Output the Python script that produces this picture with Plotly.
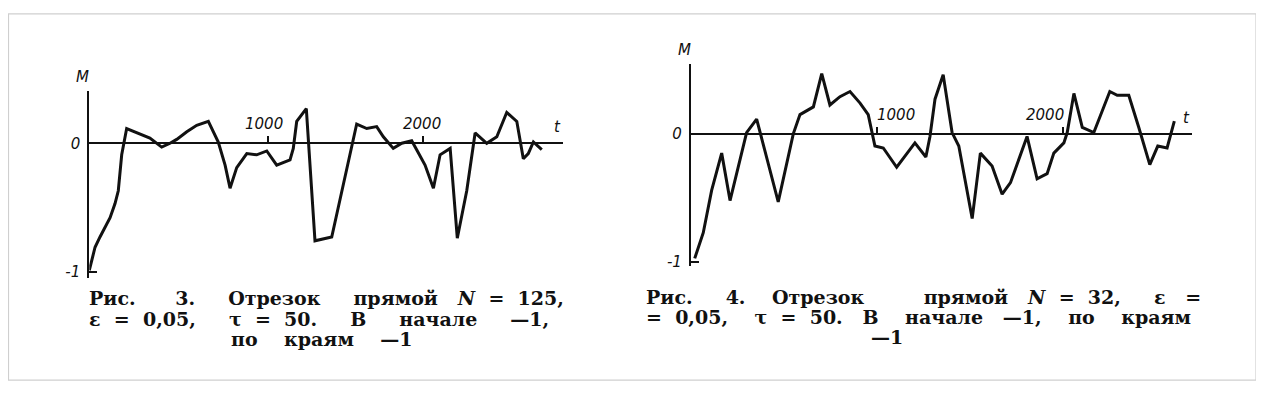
import plotly.graph_objects as go

# ---------------- data ----------------
# Fig. 3 (left): N = 125
t_left = [-155, -118, -86, -21, 11, 32, 54, 86, 236, 280, 312, 366, 409, 474, 538,
          613, 677, 721, 753, 796, 861, 925, 990, 1054, 1140, 1161, 1183, 1245, 1301,
          1409, 1570, 1635, 1699, 1742, 1806, 1861, 1925, 1957, 2011, 2065, 2108,
          2173, 2219, 2280, 2334, 2409, 2474, 2538, 2603, 2645, 2677, 2710, 2764]
m_left = [-0.99, -0.81, -0.73, -0.58, -0.47, -0.37, -0.09, 0.115, 0.04, 0.0, -0.03,
          0.0, 0.03, 0.09, 0.14, 0.17, 0.01, -0.17, -0.35, -0.19, -0.08, -0.09, -0.06,
          -0.17, -0.13, -0.04, 0.17, 0.27, -0.76, -0.73, 0.15, 0.115, 0.13, 0.05, -0.04,
          0.0, 0.02, -0.05, -0.17, -0.35, -0.09, -0.04, -0.74, -0.37, 0.08, 0.0, 0.05,
          0.24, 0.17, -0.12, -0.08, 0.01, -0.05]

# Fig. 4 (right): N = 32
t_right = [20, 66, 111, 165, 210, 299, 353, 469, 550, 586, 658, 703, 747, 801, 855,
           909, 953, 989, 1034, 1106, 1204, 1263, 1285, 1312, 1356, 1404, 1440, 1512,
           1556, 1619, 1673, 1718, 1807, 1861, 1915, 1951, 2005, 2023, 2059, 2104,
           2166, 2252, 2292, 2354, 2408, 2467, 2510, 2560, 2599]
m_right = [-0.97, -0.77, -0.44, -0.15, -0.52, 0.01, 0.115, -0.53, 0.0, 0.15, 0.21,
           0.47, 0.225, 0.29, 0.33, 0.24, 0.15, -0.095, -0.11, -0.26, -0.07, -0.18,
           -0.02, 0.27, 0.46, 0.01, -0.095, -0.66, -0.15, -0.25, -0.47, -0.38, -0.02,
           -0.35, -0.31, -0.15, -0.07, 0.01, 0.315, 0.05, 0.01, 0.33, 0.30, 0.30, 0.05,
           -0.24, -0.095, -0.11, 0.10]

x_ticks = [1000, 2000]
x_tick_labels = ["1000", "2000"]
y_ticks = [0, -1]
y_tick_labels = ["0", "-1"]

S = "\u00a0"


def sp(*parts):
    """join words with given numbers of non-breaking spaces: w, n, w, n, w ..."""
    out = ""
    for k, part in enumerate(parts):
        out += (S * part) if k % 2 else part
    return out


caption_left = [
    sp("Рис.", 6, "3.", 5, "Отрезок", 5, "прямой", 3, "<i>N</i>", 2, "=", 2, "125,"),
    sp("ε", 2, "=", 2, "0,05,", 5, "τ", 2, "=", 2, "50.", 5, "В", 5, "начале", 5, "—1,"),
    sp("по", 4, "краям", 4, "—1"),
]
caption_right = [
    sp("Рис.", 5, "4.", 4, "Отрезок", 9, "прямой", 3, "<i>N</i>", 2, "=", 2, "32,", 5, "ε", 3, "="),
    sp("=", 2, "0,05,", 4, "τ", 2, "=", 2, "50.", 3, "В", 4, "начале", 3, "—1,", 4, "по", 4, "краям"),
    "—1",
]

# ---------------- geometry (page has an 8 px body margin) ----------------
OFF = 8
W, H = 1264 - OFF, 402 - OFF


def fx(px):
    return (px - OFF) / W


def fy(py):
    return 1 - (py - OFF) / H


panels = [
    dict(t=t_left, m=m_left, xr=[-155, 2901], yr=[-1.05, 0.41],
         xd=[fx(89.3), fx(563)], yd=[fy(281.5), fy(91.7)],
         tick_shift=[-4, -1], cap=caption_left, cap_x=[88, 88, 322],
         cap_y=[302, 322.5, 343]),
    dict(t=t_right, m=m_right, xr=[0, 2694], yr=[-1.03, 0.546],
         xd=[fx(691), fx(1192)], yd=[fy(269.4), fy(64.5)],
         tick_shift=[19, -18], cap=caption_right, cap_x=[645, 645, 887],
         cap_y=[301, 321, 341]),
]

fig = go.Figure()
ink = "#111111"
lab_font = dict(family="DejaVu Sans", size=15, color=ink, style="italic")
cap_font = dict(family="DejaVu Serif", size=19, color=ink, weight="bold")

annotations = []
shapes = [dict(type="rect", xref="paper", yref="paper",
               x0=fx(8.5), x1=fx(1256), y0=fy(385), y1=fy(14),
               line=dict(color="#cfcfcf", width=1.2), fillcolor="white", layer="below")]

for i, p in enumerate(panels):
    s = "" if i == 0 else str(i + 1)
    xa, ya = "x" + s, "y" + s
    fig.add_trace(go.Scatter(x=p["t"], y=p["m"], mode="lines", xaxis=xa, yaxis=ya,
                             line=dict(color=ink, width=3), hoverinfo="skip",
                             showlegend=False))
    y0, y1 = p["yr"]
    pos = p["yd"][0] + (0 - y0) / (y1 - y0) * (p["yd"][1] - p["yd"][0])
    fig.layout["xaxis" + s] = dict(domain=p["xd"], range=p["xr"], anchor="free",
                                   position=pos, side="top", showline=False,
                                   showgrid=False, zeroline=False, tickvals=x_ticks,
                                   ticks="outside", ticklen=7, tickwidth=2,
                                   tickcolor=ink, showticklabels=False, fixedrange=True)
    fig.layout["yaxis" + s] = dict(domain=p["yd"], range=p["yr"], anchor=xa,
                                   showline=True, linecolor=ink, linewidth=2.2,
                                   showgrid=False, zeroline=True, zerolinecolor=ink,
                                   zerolinewidth=2, tickvals=y_ticks,
                                   ticktext=y_tick_labels, ticks="inside", ticklen=8,
                                   tickwidth=2, tickcolor=ink, tickfont=lab_font,
                                   ticklabelstandoff=4, fixedrange=True)
    for tv, tl, sh in zip(x_ticks, x_tick_labels, p["tick_shift"]):
        annotations.append(dict(x=tv, y=0, xref=xa, yref=ya, text=tl, showarrow=False,
                                xshift=sh, yshift=19, font=lab_font))
    annotations.append(dict(x=p["xr"][0], y=p["yr"][1], xref=xa, yref=ya, text="M",
                            showarrow=False, xshift=-7, yshift=14, font=lab_font))
    annotations.append(dict(x=p["xr"][1], y=0, xref=xa, yref=ya, text="t",
                            showarrow=False, xshift=-6, yshift=16, font=lab_font))
    for j, (line, xx, yy) in enumerate(zip(p["cap"], p["cap_x"], p["cap_y"])):
        annotations.append(dict(x=fx(xx), y=fy(yy), xref="paper", yref="paper",
                                text=line, showarrow=False, borderpad=0,
                                xanchor="left" if j < 2 else "center",
                                yanchor="middle", font=cap_font))

fig.update_layout(width=W, height=H, margin=dict(l=0, r=0, t=0, b=0),
                  paper_bgcolor="white", plot_bgcolor="rgba(0,0,0,0)",
                  annotations=annotations, shapes=shapes)

fig.write_html("out.html")
